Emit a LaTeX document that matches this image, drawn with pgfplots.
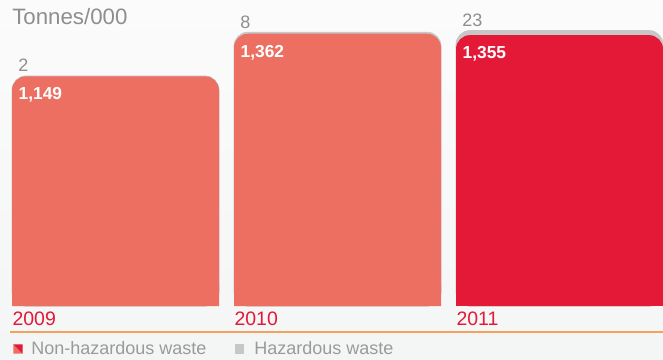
\documentclass[border=0pt]{standalone}
\usepackage{pgfplots}
\pgfplotsset{compat=1.18}
\usepackage{pgfplotstable}
\usepackage{fontspec}
\setmainfont{Liberation Sans}
\definecolor{salmon}{HTML}{EC6F62}
\definecolor{hired}{HTML}{E41837}
\definecolor{capgray}{HTML}{C6C7C7}
\definecolor{txtgray}{HTML}{8E8E8E}
\definecolor{legray}{HTML}{9A9A9A}
\definecolor{lineorange}{HTML}{F4A35E}
\definecolor{bgtop}{HTML}{FBFBFB}
\definecolor{bgbot}{HTML}{F4F5F5}

% non = non-hazardous waste, haz = hazardous waste (tonnes/000)
\pgfplotstableread{
x non haz lab
0 1149 2 1,149
1 1362 8 1,362
2 1355 23 1,355
}\wastedata

\pgfplotsset{
  barax/.style={
    at={(0pt,-229.5pt)}, anchor=south west,
    scale only axis, width=497.25pt,
    xmin=-0.5203, xmax=2.4662, ymin=0,
    axis line style={draw=none}, major tick length=0pt,
    ytick=\empty,
  },
  mybar/.style={ybar, bar width=155.25pt, bar shift=0pt},
}

\begin{document}
\begin{tikzpicture}
\begin{scope}[x=0.75pt,y=-0.75pt]
  \shade[top color=bgtop, bottom color=bgbot] (0,0) rectangle (663,359);
  \useasboundingbox (0,0) rectangle (663,359);
  \node[anchor=base west, inner sep=0pt, text=txtgray, font=\fontsize{16.7}{18}\selectfont] at (12,24.5) {Tonnes/000};
  \draw[lineorange, line width=1.1pt] (10,332) -- (663,332);
\end{scope}
\begin{axis}[
  barax, height=229.5pt, ymax=1530,
  xtick={0,1,2}, xticklabels={2009,2010,2011},
  xticklabel style={anchor=base west, xshift=-77.4pt, yshift=-14.6pt, inner sep=0pt,
    font=\fontsize{14.6}{16}\selectfont, text=hired},
  legend style={at={(axis description cs:0.0196,-0.106)}, anchor=north west,
    draw=none, fill=none, inner sep=0pt, font=\fontsize{13.5}{16}\selectfont, text=legray,
    legend columns=2, /tikz/every even column/.append style={column sep=19.5pt}},
  legend cell align=left,
]
\addplot[mybar, fill=capgray, draw=capgray, line width=0.5pt,
  rounded corners=10.5pt, forget plot,
  nodes near coords, point meta=explicit symbolic,
  every node near coord/.append style={anchor=base west, xshift=-73.1pt, yshift=3pt, inner sep=0pt,
    font=\fontsize{13.5}{16}\selectfont, text=txtgray}]
  table[x=x, y expr=\thisrow{non}+\thisrow{haz}, meta=haz] {\wastedata};
\addplot[mybar, fill=salmon, draw=none,
  rounded corners=10.5pt, forget plot, restrict x to domain=0:1,
  nodes near coords, point meta=explicit symbolic,
  every node near coord/.append style={anchor=north west, xshift=-72.8pt, yshift=-8.2pt, inner sep=0pt,
    font=\bfseries\fontsize{13}{16}\selectfont, text=white}]
  table[x=x, y=non, meta=lab] {\wastedata};
\addplot[mybar, fill=hired, draw=none,
  rounded corners=10.5pt, forget plot, restrict x to domain=2:2,
  nodes near coords, point meta=explicit symbolic,
  every node near coord/.append style={anchor=north west, xshift=-72.8pt, yshift=-8.2pt, inner sep=0pt,
    font=\bfseries\fontsize{13}{16}\selectfont, text=white}]
  table[x=x, y=non, meta=lab] {\wastedata};
\addlegendimage{legend image code/.code={
  \path[draw=none, fill=none] (0pt,-0.1pt) rectangle (11.5pt,0.1pt);
  \fill[salmon, draw=none] (0pt,3.5pt) -- (0pt,-3.5pt) -- (7pt,-3.5pt) -- cycle;
  \fill[hired, draw=none] (0pt,3.5pt) -- (7pt,3.5pt) -- (7pt,-3.5pt) -- cycle;}}
\addlegendentry{Non-hazardous waste}
\addlegendimage{legend image code/.code={
  \path[draw=none, fill=none] (0pt,-0.1pt) rectangle (12.5pt,0.1pt);
  \fill[capgray, draw=none] (0pt,-3.5pt) rectangle (7pt,3.5pt);}}
\addlegendentry{Hazardous waste}
\end{axis}
% bottom strip of the same bars, drawn square so that the bars stand flat on the baseline
\begin{axis}[barax, height=15pt, ymax=100, xtick=\empty]
\addplot[mybar, fill=salmon, draw=none, restrict x to domain=0:1]
  table[x=x, y=non] {\wastedata};
\addplot[mybar, fill=hired, draw=none, restrict x to domain=2:2]
  table[x=x, y=non] {\wastedata};
\end{axis}
\end{tikzpicture}
\end{document}
